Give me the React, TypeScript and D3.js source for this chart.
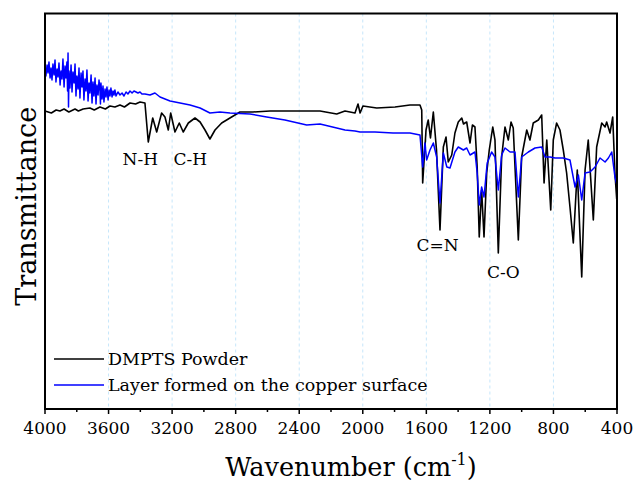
import * as d3 from 'd3';

// wavenumber (cm-1), transmittance (a.u.)
const powderWave = [
    4000, 3960, 3930, 3906, 3880, 3850, 3811, 3790, 3760, 3717, 3690, 3654, 3620, 3591, 3560,
    3528, 3500, 3465, 3430, 3402, 3371, 3350, 3322, 3297,
    3266, 3245, 3224, 3209, 3182, 3155, 3130, 3098, 3056, 3024, 2993, 2962, 2930, 2888, 2836,
    2773, 2691, 2584, 2395, 2269, 2164, 2112, 2049, 2030, 2017, 1999, 1912, 1797, 1703, 1640,
    1629, 1623, 1602, 1588, 1574, 1556, 1536, 1514, 1493, 1476, 1462, 1440, 1420, 1399, 1377,
    1366, 1357, 1346, 1325, 1310, 1294, 1280, 1267, 1252, 1237, 1220, 1204, 1182, 1168, 1147,
    1126, 1105, 1084, 1067, 1053, 1021, 1000, 968, 948, 927, 895, 874, 859, 842, 817, 801, 780,
    759, 738, 717, 696, 675, 650, 622, 601, 581, 549, 528, 496, 475, 465, 444, 427, 413, 402,
];
const powderT = [
    298, 296, 299, 298, 300, 297, 300, 298, 300, 301, 299, 302, 300, 303, 302,
    304, 302, 306, 305, 307, 306, 267, 291, 277,
    296, 292, 279, 296, 277, 286, 277, 286, 291, 287, 279, 270, 279, 286, 291,
    297, 297, 298, 298, 298, 295, 298, 296, 305, 296, 303, 301, 302, 304, 304,
    299, 226, 279, 289, 271, 297, 259, 179, 262, 272, 247, 254, 276, 287, 291,
    285, 286, 287, 266, 284, 282, 242, 172, 219, 172, 236, 259, 282, 269, 156,
    252, 282, 269, 287, 281, 169, 252, 279, 269, 286, 289, 294, 226, 269, 199, 269, 286,
    279, 259, 236, 202, 166, 239, 132, 239, 269, 189, 262, 286, 282, 287, 276, 292, 236, 210,
];

const layerWave = [
    4000, 3994, 3987, 3981, 3975, 3968, 3962, 3956, 3950, 3943, 3937, 3931, 3924, 3918, 3912,
    3905, 3899, 3893, 3887, 3880, 3874, 3868, 3862, 3858, 3855, 3852, 3849, 3843, 3836, 3830,
    3824, 3817, 3811, 3805, 3799, 3792, 3786, 3780, 3773, 3767, 3761, 3755, 3748, 3742, 3736,
    3729, 3723, 3717, 3710, 3704, 3698, 3692, 3685, 3679, 3673, 3666, 3660, 3654, 3651, 3648,
    3641, 3635, 3629, 3622, 3616, 3610, 3603, 3597, 3591, 3585, 3578, 3572, 3566, 3560, 3553,
    3541, 3528, 3515, 3503, 3490, 3478, 3465, 3452, 3440, 3427, 3415, 3402, 3390, 3371, 3339,
    3308, 3276, 3213, 3150, 3087, 3024, 2962, 2899, 2836, 2710, 2605, 2490, 2353, 2269, 2164,
    2112, 2049, 2017, 1923, 1810, 1703, 1640, 1623, 1609, 1598, 1577, 1556, 1535, 1514, 1493,
    1471, 1451, 1420, 1399, 1367, 1346, 1325, 1294, 1280, 1267, 1252, 1237, 1217, 1189, 1168,
    1147, 1126, 1105, 1073, 1042, 1021, 1000, 958, 916, 874, 853, 821, 790, 738, 696, 664, 643,
    622, 601, 570, 538, 507, 475, 454, 433, 413, 402,
];
const layerT = [
    340, 333, 344, 336, 347, 331, 341, 329, 345, 334, 349, 327, 340, 332, 346,
    324, 338, 330, 350, 322, 343, 331, 347, 318, 356, 302, 338, 321, 344, 317,
    337, 326, 345, 313, 333, 320, 341, 311, 336, 322, 338, 309, 330, 318, 339,
    308, 326, 316, 334, 306, 327, 313, 331, 305, 324, 314, 329, 318, 305, 326,
    310, 323, 307, 320, 312, 322, 309, 319, 313, 321, 312, 318, 314, 319, 313,
    317, 314, 316, 313, 317, 315, 318, 316, 318, 317, 316, 317, 315, 315, 314,
    316, 312, 308, 306, 304, 301, 296, 297, 296, 295, 292, 289, 284, 285, 281,
    279, 278, 277, 277, 276, 276, 274, 242, 266, 249, 259, 266, 252, 206, 256,
    242, 241, 257, 262, 259, 261, 254, 257, 236, 204, 222, 212, 246, 257, 252,
    219, 254, 261, 257, 257, 212, 252, 257, 261, 262, 252, 252, 251, 251, 249, 222, 234,
    209, 236, 237, 242, 251, 247, 251, 257, 232, 225,
];

const seriesNames = ['DMPTS Powder', 'Layer formed on the copper surface'];
const seriesColors = ['#000000', '#0000ff'];
const xTicks = [4000, 3600, 3200, 2800, 2400, 2000, 1600, 1200, 800, 400];
const xMinorTicks = [3800, 3400, 3000, 2600, 2200, 1800, 1400, 1000, 600];
const bandLabels = ['N-H', 'C-H', 'C=N', 'C-O'];
const bandWave = [3400, 3085, 1530, 1115];
const bandT = [244, 244, 158, 131];

const W = 636;
const H = 486;
const margin = { left: 45, right: 19, top: 13.5, bottom: 77 };
const font = '"DejaVu Serif", "Liberation Serif", serif';

export default function App() {
    const x = d3.scaleLinear().domain([4000, 400]).range([margin.left, W - margin.right]);
    const y = d3.scaleLinear().domain([0, 395.5]).range([H - margin.bottom, margin.top]);
    const line = d3
        .line<[number, number]>()
        .x((d) => x(d[0]))
        .y((d) => y(d[1]));

    const powder = powderWave.map((w, i) => [w, powderT[i]] as [number, number]);
    const layer = layerWave.map((w, i) => [w, layerT[i]] as [number, number]);
    const bottom = H - margin.bottom;

    return (
        <svg
            width={W}
            height={H}
            style={{ position: 'absolute', left: 0, top: 0, background: '#fff' }}
            fontFamily={font}
        >
            {xTicks.slice(1, -1).map((t) => (
                <line
                    key={'g' + t}
                    x1={x(t)}
                    x2={x(t)}
                    y1={margin.top}
                    y2={bottom}
                    stroke="#c6e6fa"
                    strokeWidth={1}
                    strokeDasharray="3,3"
                />
            ))}
            <path d={line(powder) ?? ''} fill="none" stroke={seriesColors[0]} strokeWidth={1.6} strokeLinejoin="round" />
            <path d={line(layer) ?? ''} fill="none" stroke={seriesColors[1]} strokeWidth={1.5} strokeLinejoin="round" />

            {bandLabels.map((b, i) => (
                <text key={b} x={x(bandWave[i])} y={y(bandT[i])} fontSize={17} textAnchor="middle" fill="#000">
                    {b}
                </text>
            ))}

            {seriesNames.map((n, i) => (
                <g key={n}>
                    <line x1={54} x2={104} y1={359 + i * 26} y2={359 + i * 26} stroke={seriesColors[i]} strokeWidth={1.5} />
                    <text x={108} y={365 + i * 26} fontSize={17.5} fill="#000">
                        {n}
                    </text>
                </g>
            ))}

            <rect
                x={margin.left}
                y={margin.top}
                width={W - margin.left - margin.right}
                height={bottom - margin.top}
                fill="none"
                stroke="#000"
                strokeWidth={2}
            />
            {xTicks.map((t) => (
                <g key={'t' + t}>
                    <line x1={x(t)} x2={x(t)} y1={bottom} y2={bottom + 5} stroke="#000" strokeWidth={1.5} />
                    <text x={x(t)} y={434} fontSize={17} textAnchor="middle" fill="#000">
                        {t}
                    </text>
                </g>
            ))}
            {xMinorTicks.map((t) => (
                <line key={'m' + t} x1={x(t)} x2={x(t)} y1={bottom} y2={bottom + 3} stroke="#000" strokeWidth={1.5} />
            ))}

            <text x={(margin.left + W - margin.right) / 2 + 20} y={476} fontSize={25.5} textAnchor="middle" fill="#000">
                Wavenumber (cm
                <tspan dy={-11} fontSize={16}>
                    -1
                </tspan>
                <tspan dy={11}>)</tspan>
            </text>
            <text
                transform={`translate(36, ${(margin.top + bottom) / 2 - 5}) rotate(-90)`}
                fontSize={27}
                textAnchor="middle"
                fill="#000"
            >
                Transmittance
            </text>
        </svg>
    );
}
